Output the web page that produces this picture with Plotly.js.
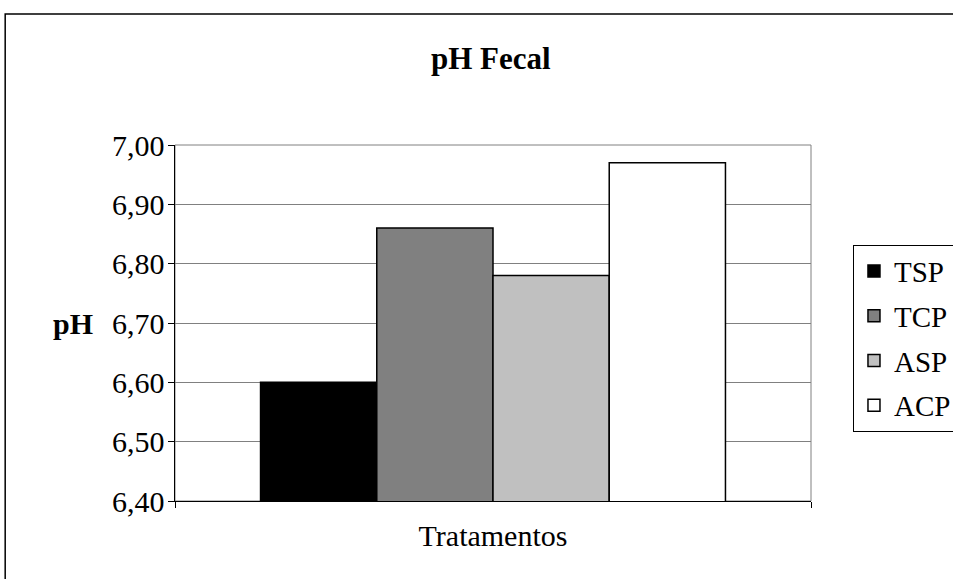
<!DOCTYPE html>
<html>
<head>
<meta charset="utf-8">
<script src="https://cdn.plot.ly/plotly-3.0.1.min.js"></script>
<style>html,body{margin:0;padding:0;background:#fff;}#chart{width:953px;height:579px;}</style>
</head>
<body>
<div id="chart"></div>
<script>
const category = ["Tratamentos"];
const seriesNames = ["TSP", "TCP", "ASP", "ACP"];
const seriesValues = [6.60, 6.86, 6.78, 6.97];
const seriesColors = ["#000000", "#808080", "#C0C0C0", "#FFFFFF"];
const yTickVals = [6.40, 6.50, 6.60, 6.70, 6.80, 6.90, 7.00];

const FONT = "Liberation Serif, Times New Roman, serif";

// group styling (fraction of the category slot)
const GROUP_WIDTH = 0.731;
const GROUP_START = -0.3655;
const barW = GROUP_WIDTH / seriesNames.length;

const traces = seriesNames.map((name, i) => ({
  type: "bar",
  name: name,
  legendgroup: "g" + i,
  x: category,
  y: [seriesValues[i]],
  width: barW,
  offset: GROUP_START + i * barW,
  marker: { color: seriesColors[i], line: { color: "#000000", width: 1.5 } },
  hoverinfo: "none"
}));

const layout = {
  width: 953,
  height: 579,
  paper_bgcolor: "#ffffff",
  plot_bgcolor: "#ffffff",
  separators: ",.",
  margin: { l: 175, r: 142, t: 145, b: 78, pad: 0, autoexpand: false },
  font: { family: FONT, size: 30, color: "#000000" },
  title: {
    text: "<b>pH Fecal</b>",
    font: { family: FONT, size: 31, color: "#000000" },
    x: 0.515, xanchor: "center",
    y: 0.9, yanchor: "middle", yref: "container"
  },
  barmode: "overlay",
  showlegend: true,
  legend: {
    x: 1.066, xanchor: "left",
    y: 0.72, yanchor: "top",
    bgcolor: "#ffffff",
    bordercolor: "#000000",
    borderwidth: 1,
    tracegroupgap: 4,
    font: { family: FONT, size: 29, color: "#000000" },
    traceorder: "grouped"
  },
  xaxis: {
    type: "category",
    range: [-0.5, 0.5],
    showgrid: false,
    showline: true,
    linecolor: "#000000",
    linewidth: 1,
    ticks: "outside",
    tickson: "boundaries",
    ticklen: 6,
    tickcolor: "#000000",
    ticklabelstandoff: 8,
    tickfont: { family: FONT, size: 30, color: "#000000" },
    zeroline: false,
    fixedrange: true
  },
  yaxis: {
    range: [6.40, 7.00],
    tickvals: yTickVals,
    tickformat: ".2f",
    showgrid: true,
    gridcolor: "#808080",
    gridwidth: 1,
    showline: true,
    linecolor: "#000000",
    linewidth: 1.5,
    ticks: "outside",
    ticklen: 6,
    tickcolor: "#000000",
    ticklabelstandoff: -3,
    tickfont: { family: FONT, size: 30, color: "#000000" },
    zeroline: false,
    fixedrange: true
  },
  annotations: [{
    text: "<b>pH</b>",
    xref: "paper", yref: "paper",
    x: -0.16, y: 0.5,
    xanchor: "center", yanchor: "middle",
    showarrow: false,
    font: { family: FONT, size: 30, color: "#000000" }
  }],
  shapes: [
    { type: "rect", xref: "paper", yref: "paper", x0: 0, x1: 1, y0: 0, y1: 1,
      line: { color: "#808080", width: 1 }, layer: "below" },
    { type: "rect", xref: "paper", yref: "paper", x0: -0.267, x1: 1.5, y0: -0.5, y1: 1.368,
      line: { color: "#000000", width: 1.5 }, layer: "below" }
  ]
};

Plotly.newPlot("chart", traces, layout, { displayModeBar: false, staticPlot: true });
</script>
</body>
</html>
